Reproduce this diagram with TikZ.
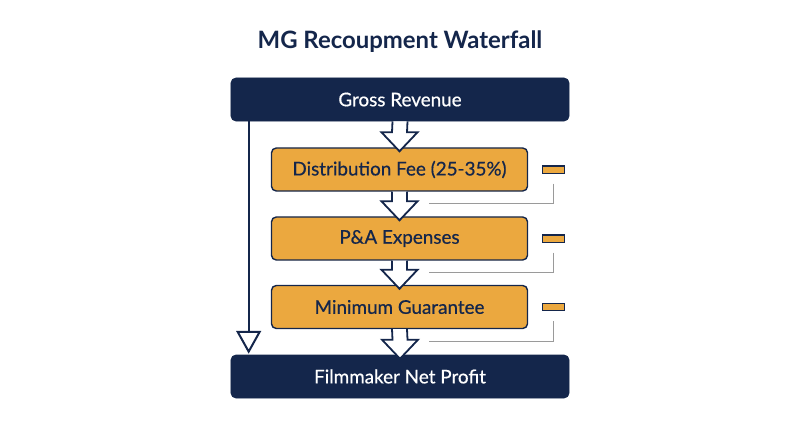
\documentclass[tikz,border=0pt]{standalone}
\usepackage{fontspec}
\setmainfont{Lato}
\newfontfamily\boxfont{Lato}[FakeBold=0.6]
\usepackage{tikz}
\usetikzlibrary{calc,arrows.meta,positioning}

\definecolor{navy}{HTML}{14264B}
\definecolor{gold}{HTML}{EBA83F}
\definecolor{rulegray}{HTML}{9A9A9A}

\def\flowarrow(#1)(#2){\draw[blockarrow] ($(#1.south)+(-7.5,0)$) -- ($(#2.north)+(-7.5,-15)$) -- ($(#2.north)+(-18,-15)$) -- ($(#2.north)+(0,4)$) -- ($(#2.north)+(18,-15)$) -- ($(#2.north)+(7.5,-15)$) -- ($(#1.south)+(7.5,0)$);}

\tikzset{
	darkbox/.style={draw=navy, fill=navy, rounded corners=0.12cm, minimum width=8.45cm, minimum height=1.075cm, text=white, font=\boxfont\fontsize{13.4}{15}\selectfont},
	goldbox/.style={draw=navy, line width=0.35mm, fill=gold, rounded corners=0.12cm, minimum width=6.4cm, minimum height=1.075cm, text=navy, font=\boxfont\fontsize{13.4}{15}\selectfont},
	tagbox/.style={draw=navy, line width=0.3mm, fill=gold, minimum width=0.55cm, minimum height=0.18cm, inner sep=0pt},
	blockarrow/.style={draw=navy, line width=0.45mm, fill=white, line join=miter},
	bypass/.style={draw=navy, line width=0.5mm, -{Triangle[open, length=0.57cm, width=0.62cm]}},
	leader/.style={draw=rulegray, line width=0.2mm}
}

\begin{document}
\begin{tikzpicture}[x=0.025cm, y=-0.025cm]
			%%%%% START %%%%%
			\useasboundingbox (0, 0) rectangle (800, 447);
			
			\node[text=navy, font=\fontsize{17}{20}\selectfont\bfseries] (title) at (400, 42) {MG Recoupment Waterfall};
			
			\node[darkbox] (gross) at (400, 99.5) {Gross Revenue};
			\node[goldbox] (fee) at (399.5, 169.5) {Distribution Fee (25-35\%)};
			\node[goldbox] (pa) at (399.5, 238.5) {P\&A Expenses};
			\node[goldbox] (mg) at (399.5, 307) {Minimum Guarantee};
			\node[darkbox] (net) at (400, 376.5) {Filmmaker Net Profit};
			
			% deductions on the right
			\node[tagbox, anchor=west] (feetag) at ($(fee.east)+(13.5,0)$) {};
			\node[tagbox, anchor=west] (patag) at ($(pa.east)+(13.5,0)$) {};
			\node[tagbox, anchor=west] (mgtag) at ($(mg.east)+(13.5,0)$) {};
			
			\coordinate (feeend) at ($(fee.south)+(29.5,12)$);
			\coordinate (paend) at ($(pa.south)+(29.5,12)$);
			\coordinate (mgend) at ($(mg.south)+(29.5,12)$);
			\draw[leader] ($(feetag.south)+(0,10)$) |- (feeend);
			\draw[leader] ($(patag.south)+(0,10)$) |- (paend);
			\draw[leader] ($(mgtag.south)+(0,10)$) |- (mgend);
			
			% bypass line
			\coordinate (bytop) at ($(gross.south west)+(18,0)$);
			\coordinate (bybot) at ($(net.north west)+(18,-1)$);
			\draw[bypass] (bytop) -- (bybot);
			
			\flowarrow(gross)(fee)
			\flowarrow(fee)(pa)
			\flowarrow(pa)(mg)
			\flowarrow(mg)(net)
			
			%%%%% END %%%%%
\end{tikzpicture}
\end{document}
